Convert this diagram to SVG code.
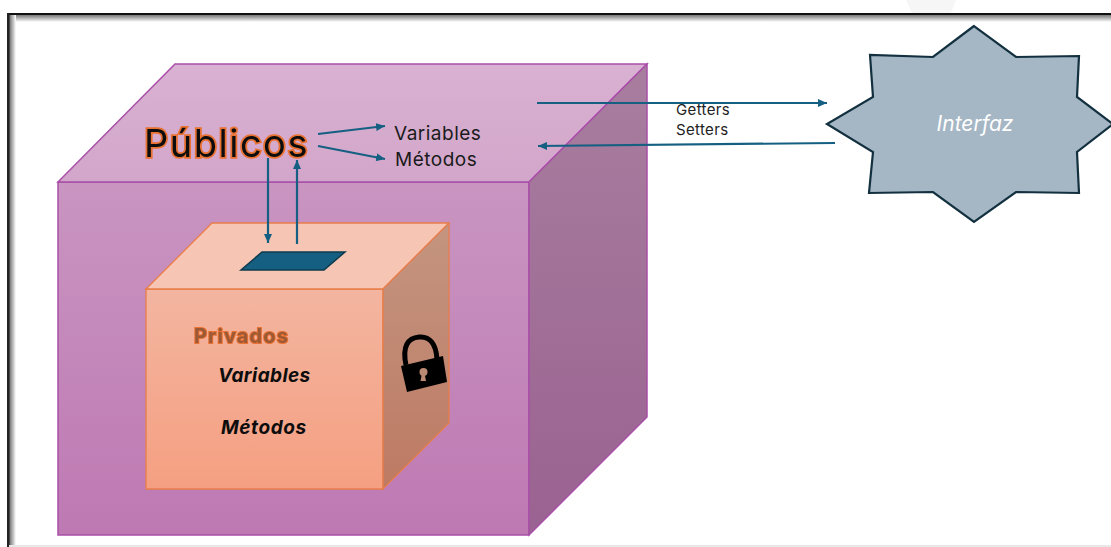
<svg xmlns="http://www.w3.org/2000/svg" width="1111" height="547" viewBox="0 0 1111 547">
<style>
.sans{font-family:"Inter","Liberation Sans",sans-serif}
.conn{stroke:#156082;stroke-width:2.2;fill:none;marker-end:url(#ah)}
.outer{stroke:#a94fa8;stroke-width:1.5}
.inner{stroke:#e97d4a;stroke-width:1.3}
</style>
<defs>
<marker id="ah" markerUnits="userSpaceOnUse" markerWidth="11" markerHeight="9" refX="9" refY="4" orient="auto"><path d="M0 0L9 4L0 8z" fill="#156082"/></marker>
<linearGradient id="of" x1="0" y1="0" x2="0" y2="1"><stop offset="0" stop-color="#c995c1"/><stop offset="1" stop-color="#be79b3"/></linearGradient>
<linearGradient id="ot" x1="0" y1="0" x2="0" y2="1"><stop offset="0" stop-color="#d9b1d2"/><stop offset="1" stop-color="#d2a6ca"/></linearGradient>
<linearGradient id="os" x1="0" y1="0" x2="0" y2="1"><stop offset="0" stop-color="#a87e9f"/><stop offset="1" stop-color="#9a6291"/></linearGradient>
<linearGradient id="if" x1="0" y1="0" x2="0" y2="1"><stop offset="0" stop-color="#f3b5a0"/><stop offset="1" stop-color="#f59f81"/></linearGradient>
<linearGradient id="is" x1="0" y1="0" x2="0" y2="1"><stop offset="0" stop-color="#c49580"/><stop offset="1" stop-color="#bd7a63"/></linearGradient>
<linearGradient id="sh" x1="0" y1="0" x2="0" y2="1"><stop offset="0" stop-color="#777"/><stop offset="1" stop-color="#fff"/></linearGradient>
<linearGradient id="shl" x1="0" y1="0" x2="1" y2="0"><stop offset="0" stop-color="#666"/><stop offset="1" stop-color="#fff"/></linearGradient>
<filter id="soft" x="-5%" y="-5%" width="110%" height="110%"><feGaussianBlur stdDeviation="0.45"/></filter>
</defs>
<rect width="1111" height="547" fill="#fff"/>
<g id="frame">
<path d="M906 0H956L951 13H912z" fill="#f6f6f6"/>
<rect x="10" y="15" width="1101" height="7" fill="url(#sh)"/>
<rect x="9" y="15" width="7" height="530" fill="url(#shl)"/>
<rect x="7" y="13" width="1104" height="2" fill="#111"/>
<rect x="7" y="13" width="2.500" height="534" fill="#222"/>
<rect x="9" y="545" width="1102" height="2" fill="#e8e8e8"/>
</g>
<g id="outer-box">
<path class="outer" d="M58 182H529V535H58z" fill="url(#of)"/>
<path class="outer" d="M58 182L175 64H647L529 182z" fill="url(#ot)"/>
<path class="outer" d="M529 182L647 64V417L529 535z" fill="url(#os)"/>
</g>
<g id="inner-box">
<path class="inner" d="M146 289H383V489H146z" fill="url(#if)"/>
<path class="inner" d="M146 289L212 223H449L383 289z" fill="#f6c5b4"/>
<path class="inner" d="M383 289L449 223V423L383 489z" fill="url(#is)"/>
</g>
<g id="slot"><path d="M262 252H345L324 270H241z" fill="#156082" stroke="#0e3a4e" stroke-width="1.5"/></g>
<g id="lock">
<path d="M401 366L443 356L447 382L407 392z" fill="#000"/>
<path d="M406 365C402 346 408 338 419 337C430 336 436 344 437 359" fill="none" stroke="#000" stroke-width="5"/>
<circle cx="423.500" cy="372" r="4" fill="#bd8a74"/>
<path d="M422 373L420.500 381H426L424.500 373z" fill="#bd8a74"/>
</g>
<g id="connectors">
<path class="conn" d="M318 134L385 126"/>
<path class="conn" d="M318 146L385 159"/>
<path class="conn" d="M268 158V243"/>
<path class="conn" d="M297 244V160"/>
<path class="conn" d="M537 103H827"/>
<path class="conn" d="M835 143L538 146"/>
</g>
<g id="publicos"><text class="sans" x="144" y="157" font-size="38" letter-spacing="1.500" fill="#0d0d0d" stroke="#e97132" stroke-width="3.500" paint-order="stroke" filter="url(#soft)">Públicos</text></g>
<g id="pub-labels" class="sans" font-size="19" letter-spacing="0.500" fill="#1a1a1a">
<text x="394" y="140">Variables</text>
<text x="395" y="166">Métodos</text>
</g>
<g id="privados">
<text class="sans" x="194" y="343" font-size="20" letter-spacing="1.100" font-weight="700" fill="#9b5a35" stroke="#e97132" stroke-width="2" paint-order="stroke" filter="url(#soft)">Privados</text>
<text class="sans" x="218" y="382" font-size="19" letter-spacing="0.400" font-weight="700" font-style="italic" fill="#0d0d0d">Variables</text>
<text class="sans" x="221" y="434" font-size="19" letter-spacing="0.600" font-weight="700" font-style="italic" fill="#0d0d0d">Métodos</text>
</g>
<g id="getset" class="sans" font-size="15" letter-spacing="0.350" fill="#222">
<text x="676" y="115">Getters</text>
<text x="676" y="135">Setters</text>
</g>
<g id="interfaz">
<path d="M974 26L933 57L870 55L873 97L827 124L873 152L869 193L933 192L974 222L1016 192L1079 193L1077 152L1113 124L1077 97L1079 56L1016 57z" fill="#a5b6c4" stroke="#12303f" stroke-width="2.200"/>
<text class="sans" x="975" y="131" font-size="21" font-style="italic" fill="#fff" text-anchor="middle">Interfaz</text>
</g>
</svg>
